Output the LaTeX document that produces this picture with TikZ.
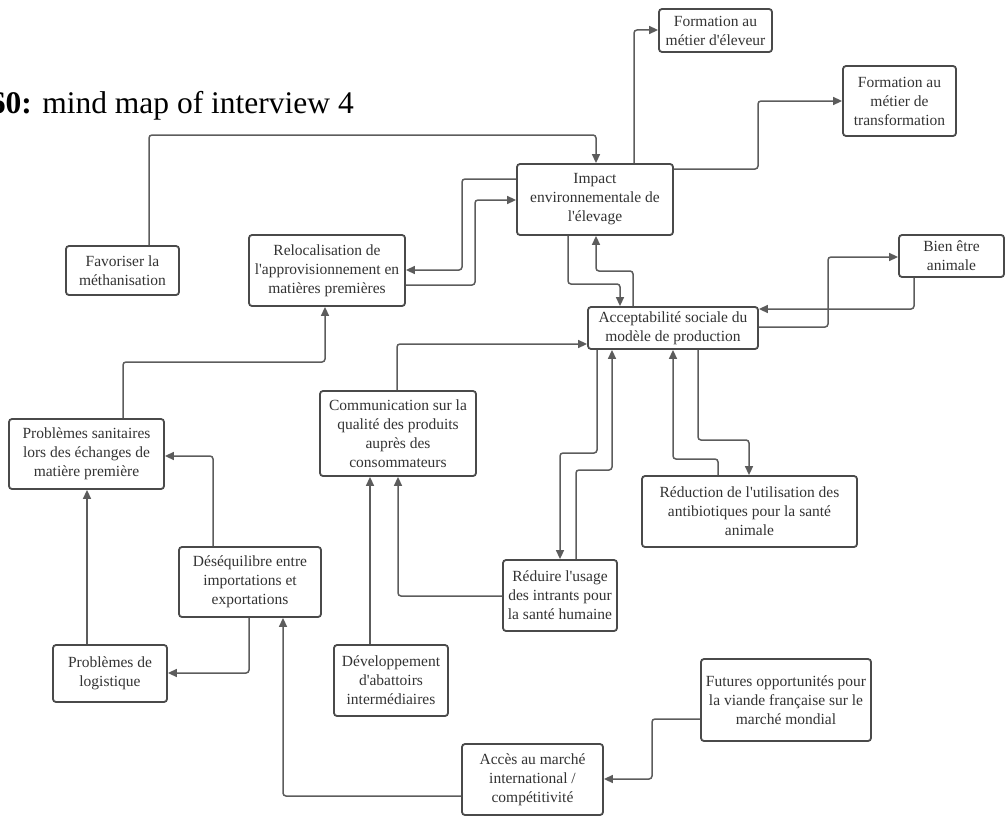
\documentclass[tikz,border=0pt]{standalone}
\usepackage{fontspec}
\setmainfont{Liberation Serif}
\newfontfamily\nf{Liberation Serif}
\usetikzlibrary{arrows.meta}
\definecolor{boxc}{HTML}{4A4A4A}
\definecolor{linec}{HTML}{5C5C5C}
\definecolor{txtc}{HTML}{333333}
\begin{document}
\begin{tikzpicture}[x=1pt,y=-1pt,
  box/.style={draw=boxc, line width=1.8pt, rounded corners=3pt, fill=white, text=txtc,
    align=center, inner sep=0pt, font=\nf\fontsize{15.5}{19}\selectfont},
  conn/.style={draw=linec, line width=1.5pt, rounded corners=3pt,
    -{Triangle[length=9pt,width=8pt]}}]
\useasboundingbox (0,0) rectangle (1006,816);
\clip (0,0) rectangle (1006,816);

\node[anchor=base east, inner sep=0pt, font=\fontsize{31.5}{36}\selectfont] (title) at (354,113)
  {\textbf{60:} mind map of interview 4};

\node[box, minimum width=113pt, minimum height=49pt] (fav) at (122.5,270.5) {Favoriser la\\méthanisation};
\node[box, minimum width=156pt, minimum height=71pt] (reloc) at (327,270.5) {Relocalisation de\\l'approvisionnement en\\matières premières};
\node[box, minimum width=156pt, minimum height=71pt] (impact) at (595,199.5) {Impact\\environnementale de\\l'élevage};
\node[box, minimum width=113pt, minimum height=43pt] (feleveur) at (715.5,30.5) {Formation au\\métier d'éleveur};
\node[box, minimum width=113pt, minimum height=70pt] (ftransf) at (899.5,101) {Formation au\\métier de\\transformation};
\node[box, minimum width=105pt, minimum height=42pt] (bien) at (951.5,256) {Bien être\\animale};
\node[box, minimum width=170pt, minimum height=42pt] (accept) at (673,328) {Acceptabilité sociale du\\modèle de production};
\node[box, minimum width=156pt, minimum height=85pt] (comm) at (398,433.5) {Communication sur la\\qualité des produits\\auprès des\\consommateurs};
\node[box, minimum width=114pt, minimum height=71pt] (reduire) at (560,595.5) {Réduire l'usage\\des intrants pour\\la santé humaine};
\node[box, minimum width=215pt, minimum height=71pt] (reduction) at (749.5,511.5) {Réduction de l'utilisation des\\antibiotiques pour la santé\\animale};
\node[box, minimum width=155pt, minimum height=70pt] (sanit) at (86.5,454) {Problèmes sanitaires\\lors des échanges de\\matière première};
\node[box, minimum width=142pt, minimum height=70pt] (deseq) at (250,582) {Déséquilibre entre\\importations et\\exportations};
\node[box, minimum width=114pt, minimum height=57pt] (logist) at (110,673.5) {Problèmes de\\logistique};
\node[box, minimum width=114pt, minimum height=71pt] (dev) at (391,680.5) {Développement\\d'abattoirs\\intermédiaires};
\node[box, minimum width=141pt, minimum height=71pt] (acces) at (532.5,779.5) {Accès au marché\\international /\\compétitivité};
\node[box, minimum width=170pt, minimum height=82pt] (futures) at (786,700) {Futures opportunités pour\\la viande française sur le\\marché mondial};

% connectors
\draw[conn] (149,0 |- fav.north) -- (149,135) -- (596,135) -- (596,0 |- impact.north);
\draw[conn] (impact.west |- 0,179) -- (462,179) -- (462,270) -- (reloc.east |- 0,270);
\draw[conn] (reloc.east |- 0,285) -- (475,285) -- (475,200) -- (impact.west |- 0,200);
\draw[conn] (634,0 |- impact.north) -- (634,30) -- (feleveur.west |- 0,30);
\draw[conn] (impact.east |- 0,169) -- (758,169) -- (758,101) -- (ftransf.west |- 0,101);
\draw[conn] (568,0 |- impact.south) -- (568,284) -- (620,284) -- (620,0 |- accept.north);
\draw[conn] (633,0 |- accept.north) -- (633,271) -- (596,271) -- (596,0 |- impact.south);
\draw[conn] (914,0 |- bien.south) -- (914,309) -- (accept.east |- 0,309);
\draw[conn] (accept.east |- 0,327) -- (828,327) -- (828,257) -- (bien.west |- 0,257);
\draw[conn] (397,0 |- comm.north) -- (397,344) -- (accept.west |- 0,344);
\draw[conn] (597,0 |- accept.south) -- (597,453) -- (560,453) -- (560,0 |- reduire.north);
\draw[conn] (576,0 |- reduire.north) -- (576,470) -- (612,470) -- (612,0 |- accept.south);
\draw[conn] (698,0 |- accept.south) -- (698,440) -- (749,440) -- (749,0 |- reduction.north);
\draw[conn] (718,0 |- reduction.north) -- (718,459) -- (673,459) -- (673,0 |- accept.south);
\draw[conn] (reduire.west |- 0,596) -- (398,596) -- (398,0 |- comm.south);
\draw[conn] (370,0 |- dev.north) -- (370,0 |- comm.south);
\draw[conn] (123,0 |- sanit.north) -- (123,362) -- (325,362) -- (325,0 |- reloc.south);
\draw[conn] (213,0 |- deseq.north) -- (213,456) -- (sanit.east |- 0,456);
\draw[conn] (249,0 |- deseq.south) -- (249,673) -- (logist.east |- 0,673);
\draw[conn] (87,0 |- logist.north) -- (87,0 |- sanit.south);
\draw[conn] (acces.west |- 0,796) -- (283,796) -- (283,0 |- deseq.south);
\draw[conn] (futures.west |- 0,719) -- (652,719) -- (652,779) -- (acces.east |- 0,779);
\end{tikzpicture}
\end{document}
